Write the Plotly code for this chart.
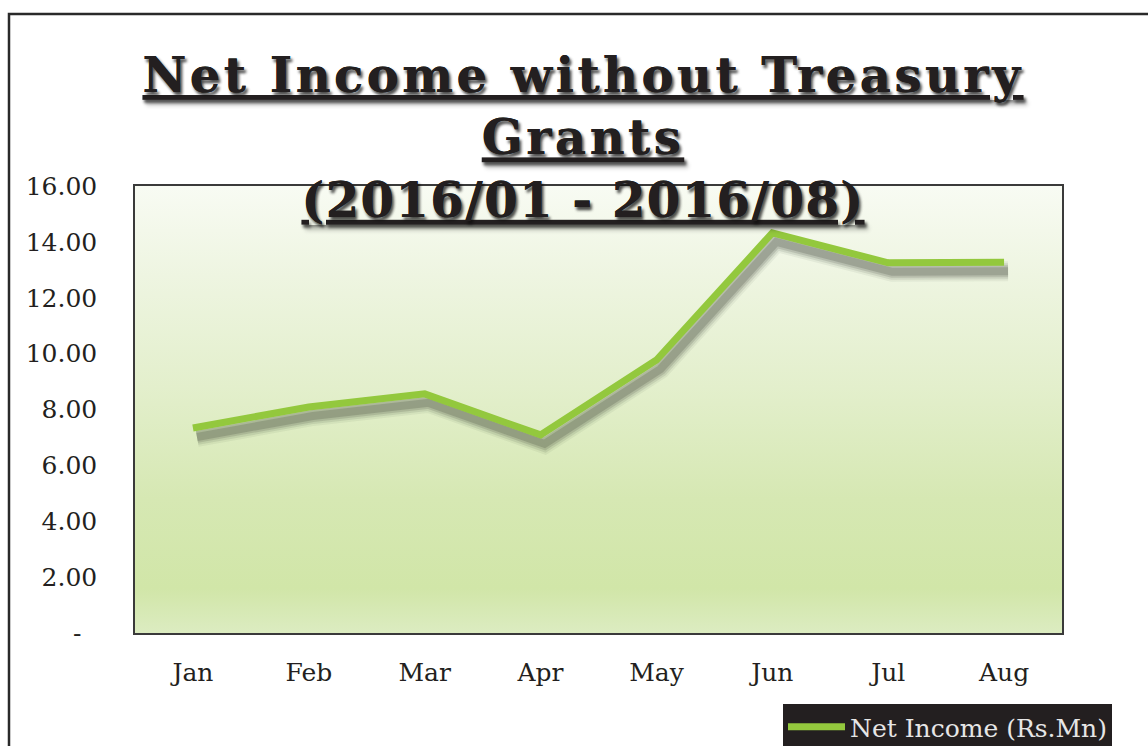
import plotly.graph_objects as go

# Monthly net income without treasury grants (Rs. Mn)
months = ["Jan", "Feb", "Mar", "Apr", "May", "Jun", "Jul", "Aug"]
net_income = [7.34, 8.09, 8.56, 7.09, 9.77, 14.32, 13.25, 13.27]

y_ticks = [0, 2, 4, 6, 8, 10, 12, 14, 16]
y_tick_text = ["-\u00a0\u00a0", "2.00", "4.00", "6.00", "8.00", "10.00", "12.00", "14.00", "16.00"]

month_pos = list(range(len(months)))

W, H = 1148, 746
L, R, T, B = 135, 1062, 186, 633          # plot area in pixels
PW, PH = R - L, B - T
X_RANGE = [-0.5, len(months) - 0.5]
Y_RANGE = [0, 16]

# drop-shadow offset for the series line (pixels)
SH_DX, SH_DY = 4, 9
dx = SH_DX * (X_RANGE[1] - X_RANGE[0]) / PW
dy = SH_DY * (Y_RANGE[1] - Y_RANGE[0]) / PH

INK = "#231f20"
GREEN = "#93c83d"
FONT = "DejaVu Serif"

fig = go.Figure()

# plot-area background: vertical green gradient
fig.add_trace(go.Scatter(
    x=[X_RANGE[0], X_RANGE[1], X_RANGE[1], X_RANGE[0], X_RANGE[0]],
    y=[Y_RANGE[0], Y_RANGE[0], Y_RANGE[1], Y_RANGE[1], Y_RANGE[0]],
    mode="lines", line=dict(width=0), fill="toself",
    fillgradient=dict(
        type="vertical", start=Y_RANGE[0], stop=Y_RANGE[1],
        colorscale=[[0.0, "#dcecc1"], [0.1, "#d1e6a8"], [0.3, "#d6e8b3"],
                    [0.55, "#e3efcc"], [0.8, "#eef5e1"], [1.0, "#f8fbf3"]],
    ),
    hoverinfo="skip", showlegend=False, xaxis="x", yaxis="y",
))

# soft shadow under the line (layered strokes)
for w, c in [(20, "rgba(40,45,35,0.06)"), (16, "rgba(40,45,35,0.10)"),
             (12, "rgba(40,45,35,0.14)"), (8, "rgba(40,45,35,0.18)")]:
    fig.add_trace(go.Scatter(
        x=month_pos, y=net_income, mode="lines",
        line=dict(color=c, width=w),
        hoverinfo="skip", showlegend=False, xaxis="x2", yaxis="y2",
    ))

# the series line
fig.add_trace(go.Scatter(
    x=month_pos, y=net_income, mode="lines", name="Net Income (Rs.Mn)",
    line=dict(color=GREEN, width=7),
    xaxis="x3", yaxis="y3",
))

px = lambda v: (v - L) / PW
py = lambda v: (B - v) / PH

title_html = (
    '<span style="letter-spacing:3.5px">Net Income without Treasury</span><br>'
    '<span style="letter-spacing:3.5px">Grants</span><br>'
    '<span style="letter-spacing:1.5px">(2016/01 - 2016/08)</span>'
)

fig.update_layout(
    width=W, height=H,
    margin=dict(l=L, r=W - R, t=T, b=H - B, autoexpand=False),
    paper_bgcolor="white", plot_bgcolor="rgba(0,0,0,0)",
    font=dict(family=FONT, color=INK, size=25),
    title=dict(
        text=title_html,
        x=583 / W, xref="container", xanchor="center",
        y=1 - 92 / H, yref="container", yanchor="top",
        font=dict(family=FONT, size=48, color=INK, weight="bold",
                  lineposition="under", shadow="2px 3px 3px rgba(0,0,0,0.45)"),
    ),
    xaxis=dict(
        range=X_RANGE, tickvals=month_pos, ticktext=months,
        showgrid=False, zeroline=False,
        showline=True, mirror=True, linecolor="#3a3a3a", linewidth=1.5,
        ticks="", ticklabelstandoff=16, tickfont=dict(size=25, color=INK),
    ),
    yaxis=dict(
        range=Y_RANGE, tickvals=y_ticks, ticktext=y_tick_text,
        showgrid=False, zeroline=False,
        showline=True, mirror=True, linecolor="#3a3a3a", linewidth=1.5,
        ticks="", ticklabelstandoff=31, tickfont=dict(size=25, color=INK),
    ),
    xaxis2=dict(range=[X_RANGE[0] - dx, X_RANGE[1] - dx], overlaying="x",
                visible=False),
    yaxis2=dict(range=[Y_RANGE[0] + dy, Y_RANGE[1] + dy], overlaying="y",
                visible=False),
    xaxis3=dict(range=X_RANGE, overlaying="x", visible=False),
    yaxis3=dict(range=Y_RANGE, overlaying="y", visible=False),
    legend=dict(
        x=px(783), y=py(704), xanchor="left", yanchor="top",
        bgcolor=INK, borderwidth=0,
        font=dict(family=FONT, size=25, color="#e6e6e6"),
        itemwidth=57,
    ),
    showlegend=True,
    shapes=[
        # outer chart frame
        dict(type="rect", xref="paper", yref="paper",
             x0=px(9), x1=px(W + 20), y0=py(H + 20), y1=py(14),
             line=dict(color="#2a2a2a", width=2.5), fillcolor="rgba(0,0,0,0)",
             layer="below"),
    ],
)

fig.write_html("out.html")
